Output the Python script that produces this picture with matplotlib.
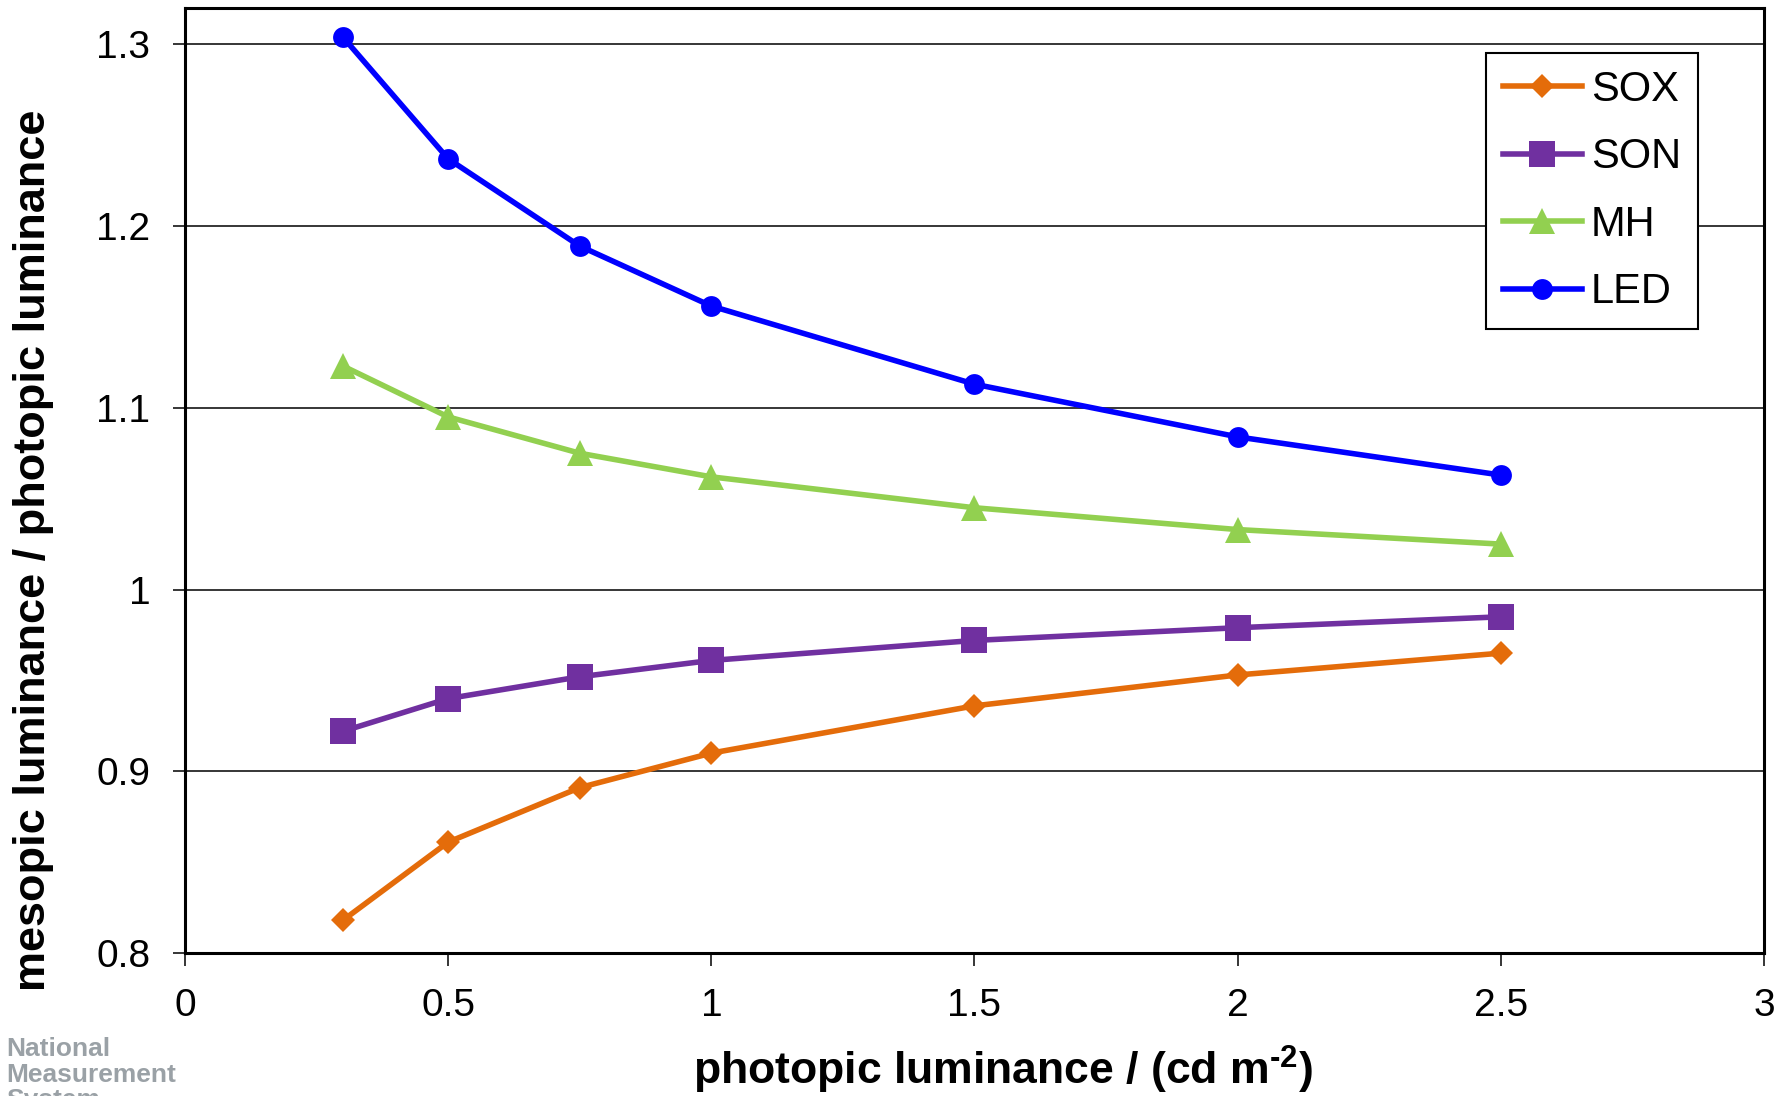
import matplotlib
matplotlib.use('Agg')
import matplotlib.pyplot as plt
from matplotlib.ticker import FuncFormatter, MultipleLocator

plt.rcParams['font.family'] = ['Liberation Sans', 'DejaVu Sans']

# photopic luminance (cd m^-2)
lum = [0.3, 0.5, 0.75, 1, 1.5, 2, 2.5]
# mesopic / photopic ratio per lamp type
sox = [0.818, 0.861, 0.891, 0.910, 0.936, 0.953, 0.965]
son = [0.922, 0.940, 0.952, 0.961, 0.972, 0.979, 0.985]
mh = [1.123, 1.095, 1.075, 1.062, 1.045, 1.033, 1.025]
led = [1.304, 1.237, 1.189, 1.156, 1.113, 1.084, 1.063]

fig = plt.figure(figsize=(17.89, 10.96), dpi=100)
ax = fig.add_axes([185/1789, 1-953/1096, 1579/1789, 945/1096])

lw = 4
ax.plot(lum, sox, color='#E46C0A', lw=lw, marker='D', ms=12.5, mew=0, label='SOX', zorder=3)
ax.plot(lum, son, color='#7030A0', lw=lw, marker='s', ms=18.5, mew=0, label='SON', zorder=3)
ax.plot(lum, mh, color='#92D050', lw=lw, marker='^', ms=19, mew=0, label='MH', zorder=3)
ax.plot(lum, led, color='#0000FF', lw=lw, marker='o', ms=15, mew=0, label='LED', zorder=3)

ax.set_xlim(0, 3)
ax.set_ylim(0.8, 1.32)
ax.xaxis.set_major_locator(MultipleLocator(0.5))
ax.yaxis.set_major_locator(MultipleLocator(0.1))
fmt = FuncFormatter(lambda v, p: '%g' % round(v, 2))
ax.xaxis.set_major_formatter(fmt)
ax.yaxis.set_major_formatter(fmt)
ax.grid(axis='y', color='black', lw=1.1, zorder=1)
ax.set_axisbelow(True)

for s in ax.spines.values():
    s.set_linewidth(2.2)
ax.tick_params(axis='both', direction='out', length=9, width=1.1, labelsize=28, colors='black')
ax.tick_params(axis='y', pad=16)
ax.tick_params(axis='x', pad=16)

fig.text(1003/1789, 1-1070/1096, 'photopic luminance / (cd m$^{\\mathregular{\u20102}}$)',
         fontsize=32, fontweight='bold', ha='center', va='center')
fig.text(34/1789, 1-550/1096, 'mesopic luminance / photopic luminance',
         fontsize=32.5, fontweight='bold', ha='center', va='center', rotation=90)

leg = ax.legend(loc='upper left', bbox_to_anchor=(1486/1789, 1-53/1096),
                bbox_transform=fig.transFigure, fontsize=30, frameon=True, fancybox=False,
                edgecolor='black', framealpha=1, borderaxespad=0, handlelength=1.9,
                handletextpad=0.22, labelspacing=0.66, borderpad=0.4)
leg.get_frame().set_linewidth(1.5)

fig.text(6/1789, 1-1037/1096, 'National\nMeasurement\nSystem', fontsize=19,
         fontweight='bold', color='#9AA1A6', ha='left', va='top', linespacing=1.08)

fig.savefig('out.png', dpi=100)
